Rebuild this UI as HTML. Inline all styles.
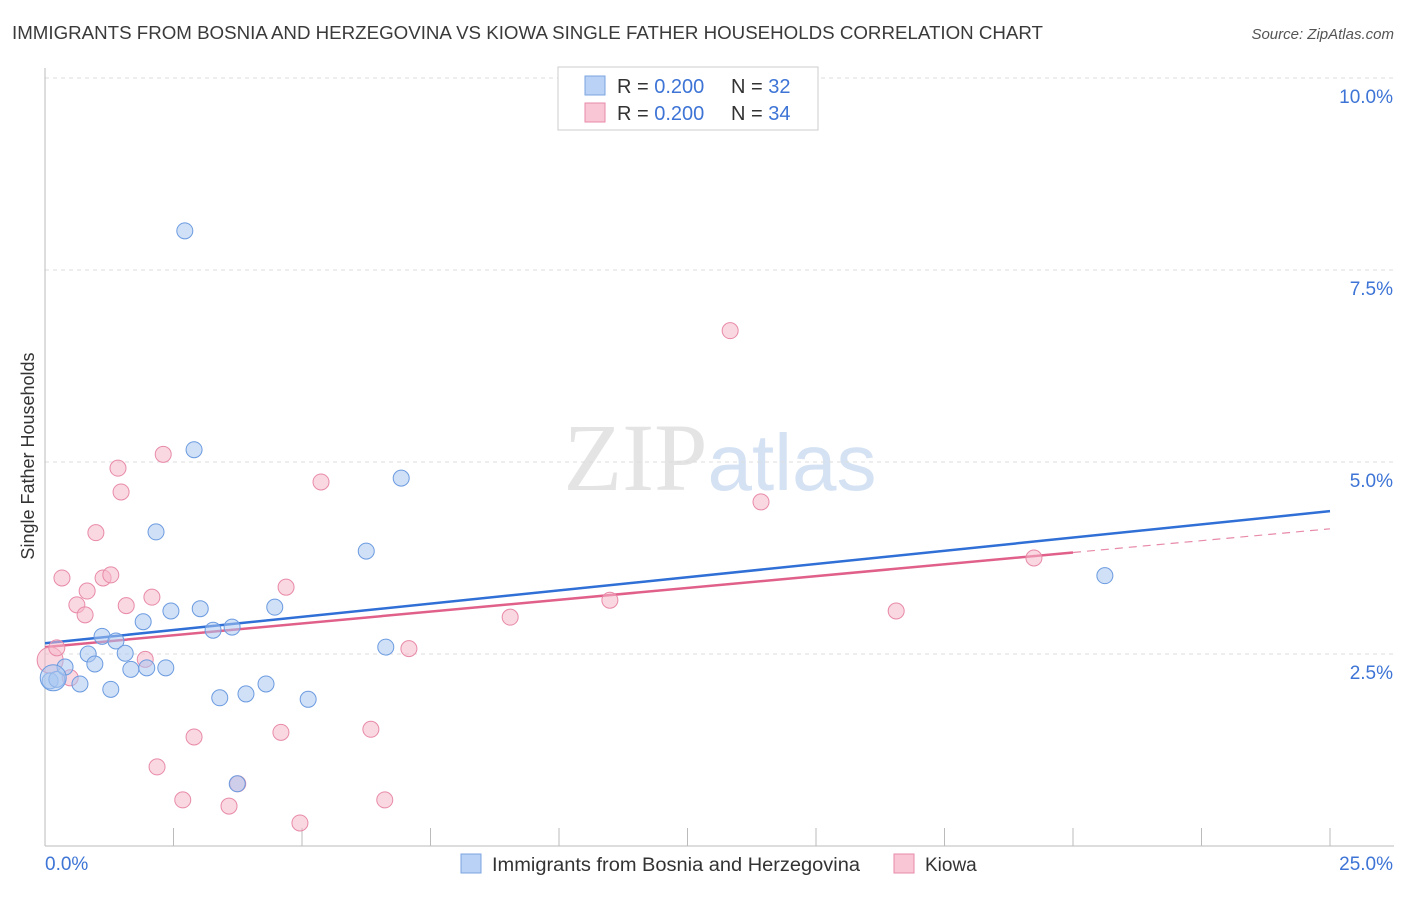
<!DOCTYPE html>
<html><head><meta charset="utf-8"><style>
body{margin:0;background:#fff;font-family:"Liberation Sans",sans-serif;}
</style></head><body>
<svg id="chart" width="1406" height="892" xmlns="http://www.w3.org/2000/svg" style="font-family:'Liberation Sans',sans-serif">
<text x="12" y="39" font-size="18" fill="#3a3a3a" textLength="1031" lengthAdjust="spacingAndGlyphs">IMMIGRANTS FROM BOSNIA AND HERZEGOVINA VS KIOWA SINGLE FATHER HOUSEHOLDS CORRELATION CHART</text>
<text x="1394" y="39" font-size="15" fill="#555" text-anchor="end" font-style="italic">Source: ZipAtlas.com</text>
<text x="720" y="490" font-size="96" text-anchor="middle" fill="#e4e4e4" font-family="Liberation Serif">ZIP<tspan fill="#d5e2f3" font-family="Liberation Sans" font-size="80">atlas</tspan></text>
<text transform="translate(34,456) rotate(-90)" font-size="18" fill="#333" text-anchor="middle">Single Father Households</text>
<g id="grid"></g><g id="axes"></g><g id="lines"></g><g id="points"></g>
<g>
<rect x="558" y="67" width="260" height="63" fill="#fff" stroke="#ccc"/>
<rect x="585" y="76" width="20" height="19" fill="#b9d2f5" stroke="#7aa4e0"/>
<text x="617" y="93" font-size="20" fill="#333">R = <tspan fill="#3d74d6">0.200</tspan></text>
<text x="731" y="93" font-size="20" fill="#333">N = <tspan fill="#3d74d6">32</tspan></text>
<rect x="585" y="103" width="20" height="19" fill="#f8c6d5" stroke="#e88aa8"/>
<text x="617" y="120" font-size="20" fill="#333">R = <tspan fill="#3d74d6">0.200</tspan></text>
<text x="731" y="120" font-size="20" fill="#333">N = <tspan fill="#3d74d6">34</tspan></text>
</g>
<g>
<rect x="461" y="854" width="20" height="19" fill="#b9d2f5" stroke="#7aa4e0"/>
<text x="492" y="871" font-size="19" fill="#333" textLength="368" lengthAdjust="spacingAndGlyphs">Immigrants from Bosnia and Herzegovina</text>
<rect x="894" y="854" width="20" height="19" fill="#f8c6d5" stroke="#e88aa8"/>
<text x="925" y="871" font-size="19" fill="#333">Kiowa</text>
</g>
</svg>
<script>
const yTicks=[2.5,5.0,7.5,10.0];
const yTickLabels=["2.5%","5.0%","7.5%","10.0%"];
const xTicks=[0,2.5,5,7.5,10,12.5,15,17.5,20,22.5,25];
const blueX=[0.10,0.23,0.39,0.68,0.84,0.97,1.11,1.28,1.38,1.56,1.67,1.91,1.98,2.16,2.35,2.45,2.72,2.90,3.02,3.27,3.40,3.64,3.74,3.91,4.30,4.47,5.12,6.25,6.63,6.93,20.62,0.16];
const blueY=[2.15,2.17,2.33,2.11,2.50,2.37,2.73,2.04,2.67,2.51,2.30,2.92,2.32,4.09,2.32,3.06,8.01,5.16,3.09,2.81,1.93,2.85,0.81,1.98,2.11,3.11,1.91,3.84,2.59,4.79,3.52,2.19];
const pinkX=[0.10,0.23,0.33,0.49,0.62,0.78,0.82,0.99,1.13,1.28,1.42,1.48,1.58,1.95,2.08,2.18,2.30,2.68,2.90,3.58,3.75,4.59,4.69,4.96,5.37,6.34,6.61,7.08,9.05,10.99,13.33,13.93,16.56,19.24];
const pinkY=[2.42,2.58,3.49,2.19,3.14,3.01,3.32,4.08,3.49,3.53,4.92,4.61,3.13,2.43,3.24,1.03,5.10,0.60,1.42,0.52,0.81,1.48,3.37,0.30,4.74,1.52,0.60,2.57,2.98,3.20,6.71,4.48,3.06,3.75];
const blueTrend=[2.64,4.36];
const pinkTrend=[2.59,4.13];
const pinkSolidEnd=20;
const X=v=>45+v*51.4, Y=v=>846-v*76.8;
const NS="http://www.w3.org/2000/svg";
function mk(t,a,p){const e=document.createElementNS(NS,t);for(const k in a)e.setAttribute(k,a[k]);p.appendChild(e);return e;}
const grid=document.getElementById('grid'),axes=document.getElementById('axes'),lines=document.getElementById('lines'),pts=document.getElementById('points');
yTicks.forEach((t,i)=>{
 const l=mk('line',{x1:45,x2:1394,y1:Y(t),y2:Y(t),stroke:'#ddd','stroke-dasharray':'4,4'},grid);
 
 
 const tx=mk('text',{x:1393,y:Y(t)+25,'font-size':19,fill:'#3d74d6','text-anchor':'end'},axes);
 tx.textContent=yTickLabels[i];
 
 
});
const ax=mk('line',{x1:45,x2:1394,y1:846,y2:846,stroke:'#bbb'},axes);


const ay=mk('line',{x1:45,x2:45,y1:68,y2:846,stroke:'#bbb'},axes);


xTicks.forEach(t=>{const l=mk('line',{x1:X(t),x2:X(t),y1:828,y2:846,stroke:'#bbb'},axes);
 
 });
const xl0=mk('text',{x:45,y:870,'font-size':19,fill:'#3d74d6'},axes);xl0.textContent='0.0%';


const xl1=mk('text',{x:1393,y:870,'font-size':19,fill:'#3d74d6','text-anchor':'end'},axes);xl1.textContent='25.0%';


function drawPts(xs,ys,fill,stroke,name){xs.forEach((x,i)=>{const r=(i===xs.length-1&&name==='blue-point')||(i===0&&name==='pink-point')?13:8;
 const c=mk('circle',{cx:X(x),cy:Y(ys[i]),r:r,fill:fill,'fill-opacity':0.55,stroke:stroke,'stroke-width':1},pts);
 
 });}
drawPts(pinkX,pinkY,'#f5b8cb','#e88aa8','pink-point');
drawPts(blueX,blueY,'#a9c6f0','#6b9be0','blue-point');
const bl=mk('line',{x1:X(0),y1:Y(blueTrend[0]),x2:X(25),y2:Y(blueTrend[1]),stroke:'#2f6fd6','stroke-width':2.5},lines);


const pm=pinkTrend[0]+(pinkTrend[1]-pinkTrend[0])*pinkSolidEnd/25;
const pl=mk('line',{x1:X(0),y1:Y(pinkTrend[0]),x2:X(pinkSolidEnd),y2:Y(pm),stroke:'#e0608a','stroke-width':2.5},lines);


const pd=mk('line',{x1:X(pinkSolidEnd),y1:Y(pm),x2:X(25),y2:Y(pinkTrend[1]),stroke:'#e88aa8','stroke-width':1.2,'stroke-dasharray':'8,6'},lines);


</script>
</body></html>
